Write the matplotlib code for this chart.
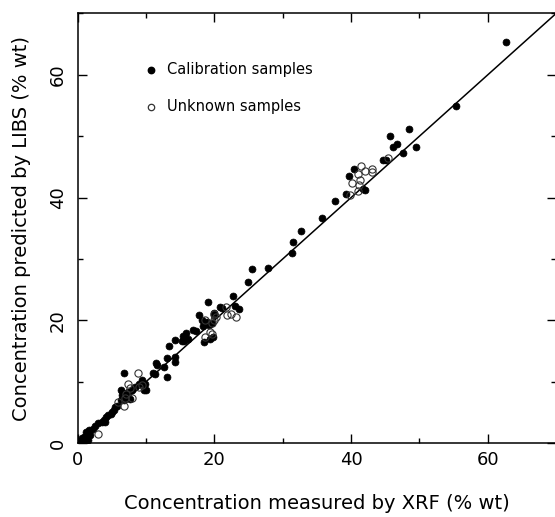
import matplotlib
matplotlib.use("Agg")
import matplotlib.pyplot as plt
from matplotlib.ticker import MultipleLocator

# Calibration samples (XRF, LIBS)
cal_x = [62.6, 55.4, 48.5, 45.7, 46.1, 46.7, 49.5, 47.6, 44.7, 45.1, 40.5, 39.7, 42.0, 41.7,
         39.2, 37.6, 35.8, 32.7, 31.5, 31.4, 27.8, 25.5, 24.9, 22.7, 23.0, 23.6, 19.1, 21.1,
         20.8, 20.0, 19.9, 17.8, 18.2, 18.7, 19.2, 18.9, 18.4, 19.6, 19.8, 19.3, 18.5, 16.9,
         17.3, 15.9, 15.4, 15.6, 16.1, 15.2, 14.2, 13.4, 14.2, 14.2, 13.0, 12.6, 11.6, 11.4,
         13.0, 11.3, 11.0, 6.8, 9.4, 9.9, 9.7, 10.0, 8.9, 8.4, 7.9, 7.3, 6.6, 6.3, 6.8, 6.3,
         7.1, 7.6, 6.5, 5.8, 5.5, 5.3, 5.0, 4.8, 4.5, 4.2, 4.0, 3.5, 3.8, 2.9, 2.5, 2.2, 1.7,
         1.4, 1.2, 0.9, 0.6, 0.4, 1.1, 0.8, 0.1, 0.3, 1.5, 1.8]
cal_y = [65.3, 54.9, 51.2, 50.1, 48.3, 48.7, 48.2, 47.2, 46.1, 46.1, 44.6, 43.5, 41.3, 41.4,
         40.5, 39.5, 36.6, 34.5, 32.8, 31.0, 28.6, 28.3, 26.2, 23.9, 22.4, 21.8, 23.0, 22.0,
         22.2, 21.2, 20.8, 20.9, 20.0, 19.5, 19.2, 19.8, 19.0, 19.6, 17.3, 16.9, 16.5, 18.4,
         18.2, 17.9, 17.4, 16.6, 17.0, 16.6, 16.8, 15.8, 14.1, 13.2, 13.8, 12.4, 12.8, 13.0,
         10.8, 11.3, 11.4, 11.4, 10.2, 9.7, 8.6, 8.6, 9.7, 9.1, 8.6, 8.3, 8.1, 8.6, 7.0, 7.0,
         7.5, 7.2, 7.8, 6.1, 5.8, 5.4, 5.0, 4.8, 4.6, 4.2, 3.4, 3.4, 3.8, 3.2, 2.8, 2.3, 2.1,
         1.5, 1.8, 1.0, 0.8, 0.4, 0.2, 0.3, 0.1, 0.2, 0.5, 1.3]

# Unknown samples (XRF, LIBS)
unk_x = [3.0, 8.8, 7.4, 7.6, 7.1, 5.9, 6.9, 7.9, 6.8, 9.4, 9.0, 18.6, 19.3, 19.6, 19.6, 20.0,
         20.0, 18.6, 20.3, 21.7, 22.4, 21.8, 23.2, 41.4, 41.0, 42.0, 43.0, 43.0, 41.3, 40.1,
         41.2, 41.0, 39.9, 45.4]
unk_y = [1.4, 11.4, 9.6, 8.9, 8.0, 6.7, 7.3, 7.3, 6.1, 9.4, 9.2, 17.3, 18.1, 19.5, 17.8, 20.0,
         21.1, 20.0, 20.6, 22.2, 21.1, 20.8, 20.5, 45.1, 43.8, 44.3, 44.7, 44.1, 42.9, 42.3,
         42.1, 41.1, 40.4, 46.5]

line_x = [0, 70]
line_y = [0, 70]

plt.rcParams['font.family'] = ['DejaVu Sans']

fig = plt.figure(figsize=(5.55, 5.17), dpi=100)
ax = fig.add_axes([0.140, 0.143, 0.862, 0.831])

ax.plot(line_x, line_y, color='black', lw=1.1, zorder=2)
ax.plot(cal_x, cal_y, 'o', ms=5.0, mfc='black', mec='black', mew=0.5, ls='none', zorder=3)
ax.plot(unk_x, unk_y, 'o', ms=5.2, mfc='none', mec='#333333', mew=0.8, ls='none', zorder=4)

# legend drawn as annotations
ax.plot([10.7], [60.8], 'o', ms=4.6, mfc='black', mec='black', ls='none')
ax.plot([10.7], [54.8], 'o', ms=4.6, mfc='none', mec='#333333', mew=0.9, ls='none')
ax.text(13.0, 60.8, 'Calibration samples', fontsize=10.5, va='center', ha='left')
ax.text(13.0, 54.8, 'Unknown samples', fontsize=10.5, va='center', ha='left')

ax.set_xlim(0, 70)
ax.set_ylim(0, 70)
ax.xaxis.set_major_locator(MultipleLocator(20))
ax.yaxis.set_major_locator(MultipleLocator(20))
ax.xaxis.set_minor_locator(MultipleLocator(10))
ax.yaxis.set_minor_locator(MultipleLocator(10))
ax.tick_params(which='both', direction='in', top=True, right=True, width=1.0)
ax.tick_params(which='major', length=6.5, labelsize=13, pad=6)
ax.tick_params(which='minor', length=3.5)
ax.tick_params(axis='y', which='major', pad=8)
for lab in ax.get_yticklabels():
    lab.set_rotation(90)
    lab.set_va('center')
for s in ax.spines.values():
    s.set_linewidth(1.1)

ax.set_xlabel('Concentration measured by XRF (% wt)', fontsize=14, labelpad=18)
ax.set_ylabel('Concentration predicted by LIBS (% wt)', fontsize=14, labelpad=13)

fig.savefig('out.png', dpi=100)
